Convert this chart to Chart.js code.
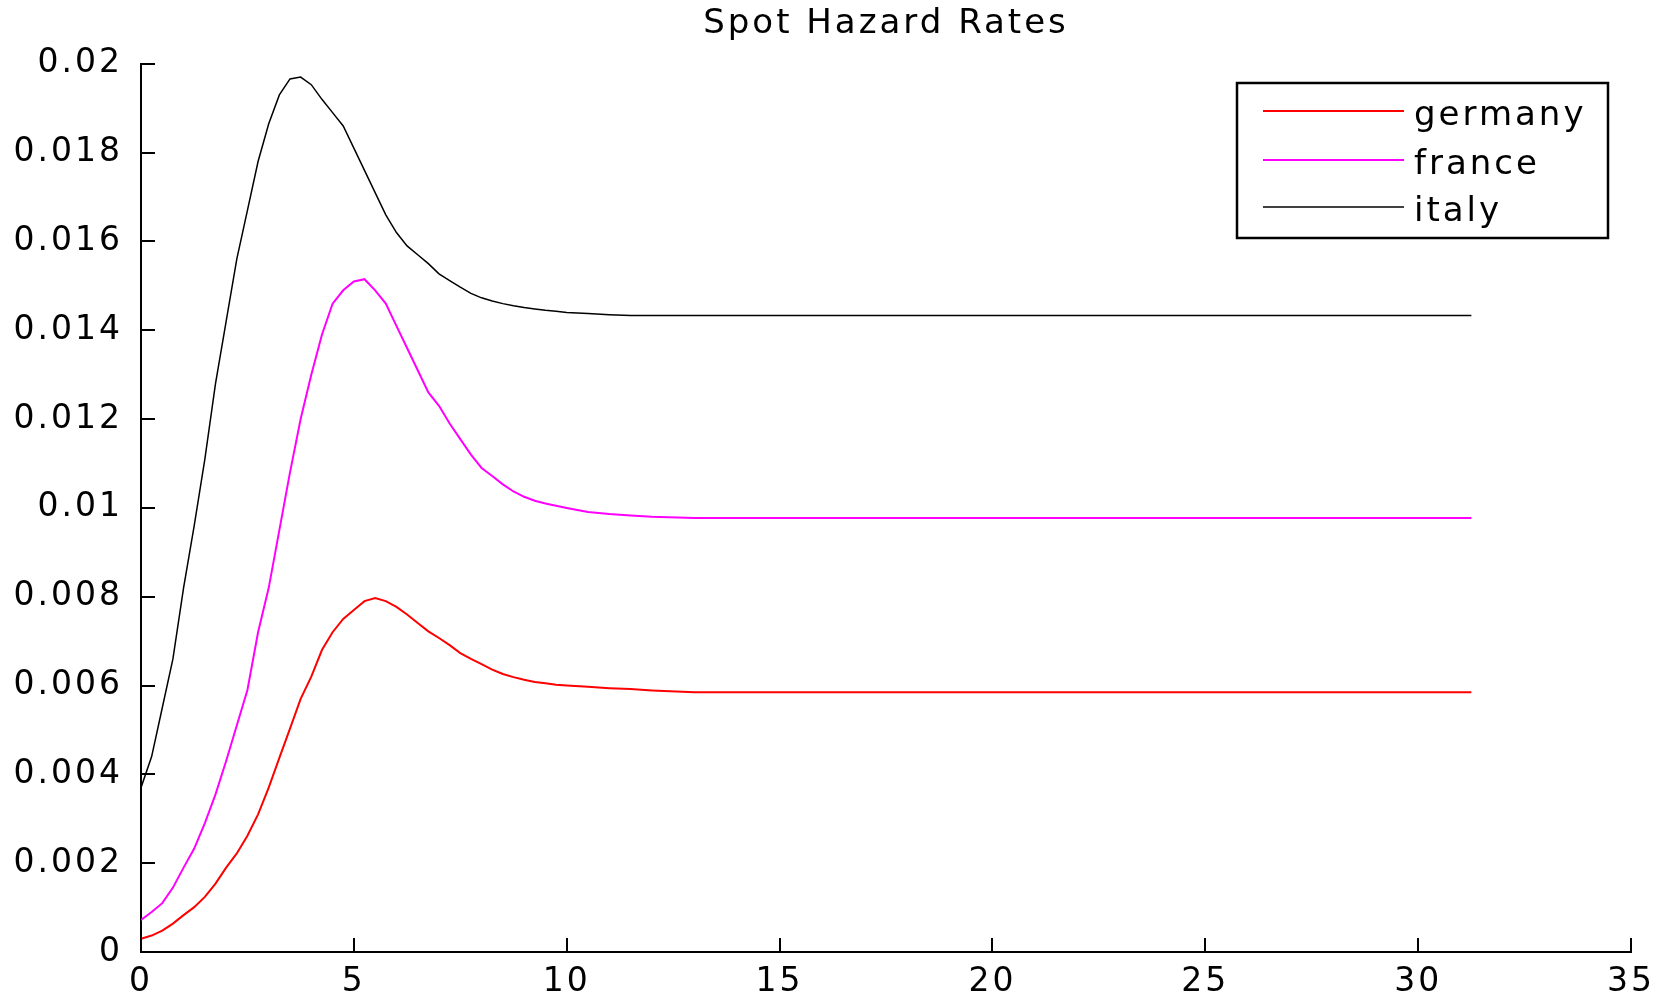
<!DOCTYPE html>
<html lang="en">
<head>
<meta charset="UTF-8">
<title>Spot Hazard Rates</title>
<script src="https://cdn.jsdelivr.net/npm/chart.js"></script>
<style>
    html, body { margin: 0; padding: 0; background: #fff; }
</style>
</head>
<body>
<canvas id="hazardChart" width="1667" height="995"></canvas>
<script>
// time grid (years) and spot hazard rates
const years = [0, 0.25, 0.5, 0.75, 1, 1.25, 1.5, 1.75, 2, 2.25, 2.5, 2.75, 3, 3.25, 3.5, 3.75,
    4, 4.25, 4.5, 4.75, 5, 5.25, 5.5, 5.75, 6, 6.25, 6.5, 6.75, 7, 7.25, 7.5, 7.75,
    8, 8.25, 8.5, 8.75, 9, 9.25, 9.5, 9.75, 10, 10.5, 11, 11.5, 12, 13, 31.25];

const germany = [0.0003, 0.00037, 0.00048, 0.00064, 0.00083, 0.00101, 0.00124, 0.00154, 0.0019, 0.00222, 0.00262, 0.0031, 0.0037, 0.00437, 0.00503, 0.0057,
    0.0062, 0.0068, 0.0072, 0.0075, 0.0077, 0.0079, 0.00797, 0.0079, 0.00777, 0.0076, 0.00741, 0.00722, 0.00707, 0.00691, 0.00673, 0.0066,
    0.00648, 0.00636, 0.00626, 0.00619, 0.00613, 0.00608, 0.00605, 0.00602, 0.006, 0.00597, 0.00594, 0.00592, 0.00589, 0.00585, 0.00585];

const france = [0.00072, 0.0009, 0.0011, 0.00145, 0.0019, 0.00233, 0.0029, 0.00355, 0.0043, 0.0051, 0.0059, 0.0072, 0.0082, 0.0095, 0.0108, 0.012,
    0.013, 0.0139, 0.0146, 0.0149, 0.0151, 0.01515, 0.0149, 0.0146, 0.0141, 0.0136, 0.0131, 0.0126, 0.0123, 0.0119, 0.01155, 0.0112,
    0.0109, 0.01072, 0.01053, 0.01037, 0.01025, 0.01016, 0.0101, 0.01005, 0.01, 0.00991, 0.00986, 0.00983, 0.0098, 0.00977, 0.00977];

const italy = [0.0037, 0.0044, 0.0055, 0.0066, 0.0082, 0.0096, 0.0111, 0.0128, 0.0142, 0.0156, 0.0167, 0.0178, 0.01865, 0.0193, 0.01966, 0.0197,
    0.01953, 0.0192, 0.0189, 0.0186, 0.0181, 0.0176, 0.0171, 0.0166, 0.0162, 0.0159, 0.0157, 0.0155, 0.01527, 0.01512, 0.01497, 0.01483,
    0.01473, 0.01466, 0.0146, 0.01455, 0.01451, 0.01448, 0.01445, 0.01443, 0.0144, 0.01438, 0.01435, 0.01433, 0.01433, 0.01433, 0.01433];

const seriesNames = ['germany', 'france', 'italy'];
const seriesColors = ['#ff0000', '#ff00ff', '#000000'];
const seriesWidths = [2, 2, 1.5];

const xTicks = [0, 5, 10, 15, 20, 25, 30, 35];
const yTicks = [0, 0.002, 0.004, 0.006, 0.008, 0.01, 0.012, 0.014, 0.016, 0.018, 0.02];
const yTickLabels = ['0', '0.002', '0.004', '0.006', '0.008', '0.01', '0.012', '0.014', '0.016', '0.018', '0.02'];

const FONT = 'DejaVu Sans';

// wider, MATLAB-ish lettering
const spacing = {
    id: 'spacing',
    beforeLayout(chart) { chart.ctx.letterSpacing = '3px'; },
    beforeDraw(chart) { chart.ctx.letterSpacing = '3px'; }
};

// inward tick marks like the original axes
const innerTicks = {
    id: 'innerTicks',
    afterDatasetsDraw(chart) {
        const ctx = chart.ctx;
        const x = chart.scales.x, y = chart.scales.y;
        const len = 14;
        ctx.save();
        ctx.strokeStyle = '#000';
        ctx.lineWidth = 2;
        ctx.beginPath();
        xTicks.forEach(v => {
            const px = Math.round(x.getPixelForValue(v));
            ctx.moveTo(px, y.bottom);
            ctx.lineTo(px, y.bottom - len);
        });
        yTicks.forEach(v => {
            const py = Math.round(y.getPixelForValue(v));
            ctx.moveTo(x.left, py);
            ctx.lineTo(x.left + len, py);
        });
        ctx.stroke();
        ctx.restore();
    }
};

// boxed legend in the top right corner
const boxLegend = {
    id: 'boxLegend',
    afterDraw(chart) {
        const ctx = chart.ctx;
        const box = { left: 1237, top: 83, right: 1608, bottom: 238 };
        const rows = [111, 160, 207];
        ctx.save();
        ctx.fillStyle = '#fff';
        ctx.fillRect(box.left, box.top, box.right - box.left, box.bottom - box.top);
        ctx.strokeStyle = '#000';
        ctx.lineWidth = 2.5;
        ctx.strokeRect(box.left, box.top, box.right - box.left, box.bottom - box.top);
        ctx.font = '34px "' + FONT + '"';
        ctx.letterSpacing = '3px';
        ctx.textBaseline = 'alphabetic';
        chart.data.datasets.forEach((ds, i) => {
            ctx.strokeStyle = ds.borderColor;
            ctx.lineWidth = ds.borderWidth;
            ctx.beginPath();
            ctx.moveTo(1263, rows[i]);
            ctx.lineTo(1404, rows[i]);
            ctx.stroke();
            ctx.fillStyle = '#000';
            ctx.fillText(ds.label, 1414, rows[i] + 14);
        });
        ctx.restore();
    }
};

const ctx = document.getElementById('hazardChart').getContext('2d');
new Chart(ctx, {
    type: 'line',
    data: {
        datasets: seriesNames.map((name, i) => ({
            label: name,
            data: years.map((t, j) => ({ x: t, y: [germany, france, italy][i][j] })),
            borderColor: seriesColors[i],
            borderWidth: seriesWidths[i],
            pointRadius: 0,
            tension: 0,
            fill: false
        }))
    },
    options: {
        responsive: false,
        animation: false,
        layout: { padding: { top: 0, right: 36, bottom: 0, left: 0 } },
        plugins: {
            legend: { display: false },
            tooltip: { enabled: false },
            title: {
                display: true,
                fullSize: false,
                text: 'Spot Hazard Rates',
                color: '#000',
                font: { family: FONT, size: 34, weight: 'normal' },
                padding: { top: 4, bottom: 19 }
            }
        },
        scales: {
            x: {
                type: 'linear',
                min: 0,
                max: 35,
                grid: { display: false, drawTicks: false },
                border: { display: true, color: '#000', width: 2 },
                ticks: {
                    color: '#000',
                    padding: 11,
                    maxRotation: 0,
                    font: { family: FONT, size: 33 }
                },
                afterBuildTicks: s => { s.ticks = xTicks.map(v => ({ value: v })); },
                afterFit: s => { s.height = 43; }
            },
            y: {
                type: 'linear',
                min: 0,
                max: 0.02,
                grid: { display: false, drawTicks: false },
                border: { display: true, color: '#000', width: 2 },
                ticks: {
                    color: '#000',
                    padding: 18,
                    font: { family: FONT, size: 33 },
                    callback: v => yTickLabels[yTicks.indexOf(v)]
                },
                afterBuildTicks: s => { s.ticks = yTicks.map(v => ({ value: v })); },
                afterFit: s => { s.width = 141; }
            }
        }
    },
    plugins: [spacing, innerTicks, boxLegend]
});
</script>
</body>
</html>
